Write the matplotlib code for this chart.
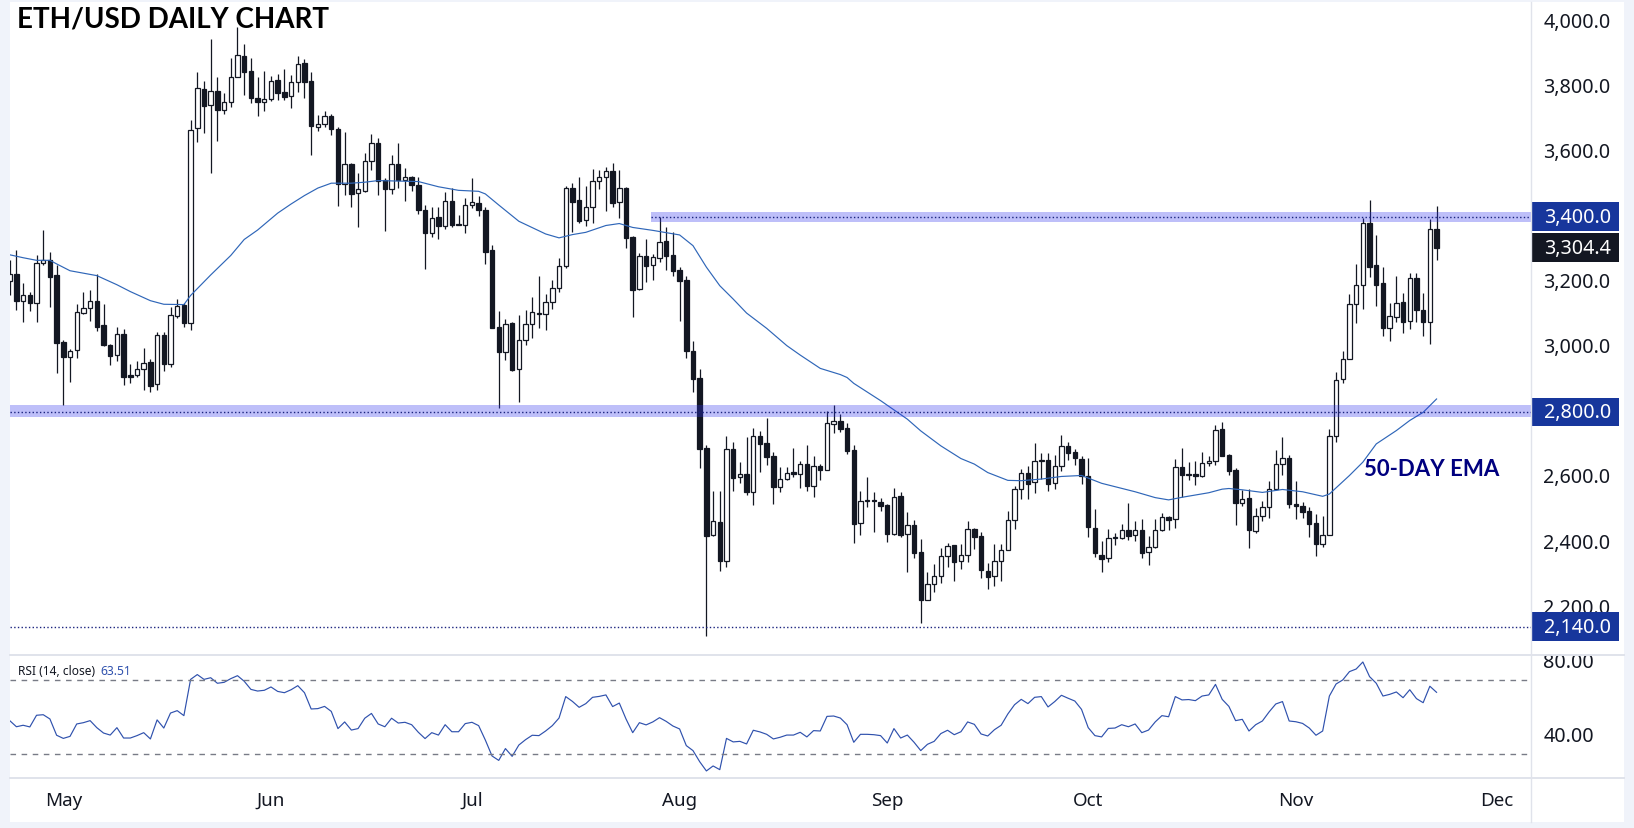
import numpy as np
import matplotlib
matplotlib.use("Agg")
import matplotlib.pyplot as plt
from matplotlib.patches import Rectangle
from matplotlib.lines import Line2D
from matplotlib.transforms import ScaledTranslation

plt.rcParams['font.family'] = ['Noto Sans', 'DejaVu Sans']

# daily candles, first one is 8 days before May 1
open_ = [3204,3224,3140,3160,3134,3259,3266,3221,3015,2970,2990,3105,3119,3140,3067,3005,2974,3039,2913,2913,2931,2954,2885,3036,2946,3094,3129,3073,3672,3791,3744,3785,3729,3752,3828,3893,3847,3765,3752,3761,3819,3782,3770,3813,3871,3816,3675,3684,3709,3669,3500,3561,3472,3480,3570,3626,3512,3484,3561,3513,3521,3497,
         3421,3351,3398,3370,3447,3377,3374,3435,3441,3420,3297,3060,2984,3073,2931,3020,3070,3102,3100,3137,3180,3248,3487,3450,3389,3429,3509,3523,3539,3444,3487,3338,3177,3278,3251,3272,3324,3281,3235,3206,2987,2905,2688,2421,2461,2343,2685,2599,2611,2553,2725,2705,2664,2571,2593,2615,2611,2639,2574,2633,2623,2764,
         2772,2751,2682,2458,2527,2529,2525,2513,2424,2541,2426,2452,2369,2224,2273,2295,2359,2390,2341,2362,2442,2418,2313,2295,2341,2375,2467,2562,2614,2584,2648,2654,2581,2633,2697,2676,2657,2602,2445,2362,2350,2413,2414,2438,2423,2439,2369,2384,2438,2476,2470,2630,2611,2611,2604,2642,2648,2748,2667,2621,2521,2535,2435,
         2480,2507,2565,2639,2658,2518,2510,2495,2458,2396,2423,2725,2900,2964,3131,3189,3380,3251,3195,3059,3091,3137,3079,3211,3113,3075,3361]
high = [3267,3298,3197,3168,3281,3359,3291,3253,3021,2994,3132,3170,3175,3223,3132,3009,3062,3055,2948,2956,2996,2963,3047,3045,3122,3147,3135,3697,3844,3817,3946,3828,3780,3887,3982,3930,3887,3828,3848,3833,3838,3854,3836,3893,3885,3844,3713,3724,3716,3675,3659,3564,3534,3596,3653,3641,3518,3590,3626,3550,3525,3521,
        3436,3429,3429,3475,3487,3406,3456,3519,3463,3429,3312,3110,3086,3077,3098,3113,3153,3219,3163,3205,3273,3495,3503,3522,3494,3546,3543,3552,3565,3543,3490,3342,3287,3332,3286,3398,3367,3352,3244,3218,3018,2932,2699,2557,2557,2726,2707,2647,2722,2750,2742,2781,2676,2630,2631,2690,2649,2699,2664,2640,2802,2822,
        2794,2765,2700,2556,2599,2553,2535,2517,2566,2553,2493,2467,2410,2310,2333,2381,2399,2391,2394,2465,2443,2430,2336,2394,2394,2495,2572,2625,2634,2705,2673,2673,2668,2728,2708,2686,2664,2658,2502,2403,2442,2427,2455,2520,2465,2470,2419,2470,2489,2481,2655,2689,2646,2649,2677,2665,2759,2768,2671,2628,2560,2565,2504,
        2527,2587,2683,2722,2668,2587,2523,2507,2487,2482,2748,2922,2987,3163,3255,3396,3451,3344,3245,3135,3217,3166,3227,3226,3166,3393,3432]
low = [3158,3112,3078,3109,3076,3253,3124,2919,2820,2893,2965,3101,3081,3050,3004,2943,2958,2884,2889,2907,2869,2863,2869,2927,2937,3090,3060,3053,3631,3657,3535,3634,3714,3738,3828,3774,3748,3708,3726,3754,3757,3758,3735,3784,3766,3591,3663,3675,3651,3434,3468,3431,3367,3477,3544,3468,3357,3470,3487,3449,3480,3409,
       3238,3339,3330,3362,3367,3373,3350,3428,3403,3256,3057,2813,2960,2927,2830,3007,3027,3059,3053,3116,3170,3241,3354,3382,3372,3382,3485,3418,3431,3397,3305,3093,3176,3200,3207,3262,3237,3219,3081,2967,2863,2629,2113,2420,2313,2325,2558,2582,2546,2515,2617,2638,2518,2555,2592,2601,2567,2558,2540,2592,2623,2736,
       2739,2671,2397,2423,2509,2432,2497,2401,2423,2417,2309,2352,2153,2223,2248,2274,2324,2282,2317,2340,2379,2290,2257,2266,2282,2375,2440,2534,2534,2552,2594,2558,2564,2620,2653,2638,2579,2417,2355,2309,2340,2391,2410,2408,2404,2351,2330,2383,2435,2437,2443,2540,2591,2575,2599,2635,2637,2664,2607,2454,2510,2383,2429,
       2466,2474,2561,2605,2504,2472,2473,2415,2359,2384,2423,2707,2890,2963,3074,3115,3216,3127,3032,3019,3078,3044,3056,3075,3035,3010,3268]
close = [3224,3142,3159,3134,3257,3266,3216,3013,2970,2987,3106,3119,3140,3062,3007,2973,3039,2909,2909,2931,2952,2881,3036,2946,3097,3125,3073,3665,3795,3739,3785,3729,3752,3828,3896,3844,3766,3751,3761,3816,3781,3769,3813,3868,3815,3680,3684,3709,3668,3500,3561,3471,3484,3570,3626,3510,3485,3561,3513,3521,3496,3422,
         3351,3397,3370,3447,3376,3375,3435,3444,3420,3293,3059,2983,3070,2930,3020,3070,3106,3104,3137,3180,3248,3487,3446,3388,3429,3509,3521,3539,3443,3487,3336,3176,3278,3250,3275,3321,3280,3232,3203,2988,2902,2687,2420,2464,2343,2685,2598,2611,2555,2725,2703,2663,2571,2593,2614,2611,2639,2574,2633,2623,2766,2771,
         2748,2681,2457,2528,2529,2527,2512,2426,2538,2423,2452,2368,2223,2273,2295,2358,2387,2340,2362,2442,2417,2315,2294,2341,2375,2467,2562,2614,2580,2648,2654,2580,2633,2697,2675,2659,2602,2447,2366,2349,2414,2416,2438,2420,2438,2368,2384,2438,2476,2469,2630,2607,2606,2604,2642,2648,2746,2666,2620,2521,2534,2438,2480,
         2507,2565,2639,2658,2516,2510,2494,2457,2396,2421,2725,2898,2964,3131,3189,3380,3247,3191,3059,3094,3136,3078,3211,3112,3075,3361,3304]

# 50 day EMA, read at these candles
ema_days = [-8,-6,-4,-2,-1,1,5,8,10,13,15,18,19,22,25,27,29,32,34,36,38,40,43,45,47,53,56,59,62,63,65,68,72,74,76,78,81,83,85,88,92,94,96,98,100,102,105,108,110,113,116,117,118,122,126,128,131,134,136,138,141,143,146,149,152,154,155,160,163,165,167,171,173,174,176,179,182,185,188,189,192,194,196,199,201,203,205]
ema = [3283,3274,3266,3266,3255,3234,3219,3191,3170,3142,3131,3130,3158,3221,3281,3330,3359,3411,3439,3465,3488,3503,3503,3506,3511,3508,3492,3481,3478,3470,3436,3386,3347,3335,3345,3352,3373,3379,3367,3358,3344,3311,3245,3188,3147,3104,3057,3004,2975,2934,2915,2906,2888,2835,2778,2742,2696,2657,2640,2614,2590,2589,2594,2602,2605,2589,2581,2555,2537,2530,2538,2552,2563,2565,2561,2553,2562,2555,2541,2548,2605,2646,2702,2743,2774,2799,2840]

rsi = [48.2,44.9,45.7,44.8,51.1,51.4,49.1,40.3,38.6,39.7,46.4,47.1,48.2,44.4,41.5,40.4,44.4,38.8,38.8,40.1,41.7,38.3,48.6,44.2,52.3,53.6,50.9,70.5,73.1,70.5,71.4,68.4,68.9,70.9,72.5,69.5,65.1,64.2,64.6,66.4,64.0,63.3,64.9,67.1,63.3,54.5,54.7,55.9,53.2,43.9,47.5,43.1,43.9,49.5,52.1,46.4,
       44.9,49.5,46.9,47.3,46.0,41.9,38.5,41.7,40.4,46.0,42.2,42.2,46.6,47.3,45.5,37.7,29.1,26.7,33.1,28.9,35.0,37.9,40.3,40.1,42.6,45.5,49.6,61.2,58.6,55.4,57.4,60.8,61.3,62.1,55.8,57.7,49.1,41.7,47.1,45.9,47.5,49.8,47.8,45.3,43.7,34.7,32.0,26.0,21.0,23.7,21.7,38.6,36.7,37.0,35.6,43.0,
       42.1,40.8,38.3,39.2,40.4,40.4,41.9,39.4,42.8,42.6,50.5,50.7,49.6,46.0,36.5,40.8,40.8,40.6,40.1,36.1,43.9,38.8,40.4,36.5,32.0,35.4,37.0,41.2,43.0,40.6,42.2,47.5,46.2,41.0,39.9,43.3,45.7,51.8,56.8,59.7,57.4,60.8,61.2,55.6,58.5,61.9,60.3,58.8,54.3,44.4,40.1,39.4,44.0,44.2,
       46.0,44.9,46.4,41.7,43.1,47.5,50.9,50.3,61.2,59.4,59.6,59.0,61.5,62.1,67.8,59.7,55.9,48.2,48.9,42.6,46.0,48.0,52.9,57.2,58.5,48.0,47.6,46.7,44.2,40.3,42.6,61.5,68.0,70.2,74.7,76.1,79.9,72.0,68.4,61.5,62.4,63.7,60.6,64.9,60.1,57.9,66.8,63.51]

month_days = [0,31,61,92,123,153,184,214]
month_labels = ['May','Jun','Jul','Aug','Sep','Oct','Nov','Dec']
price_ticks = [2200,2400,2600,3000,3200,3600,3800,4000]
rsi_ticks = [40,80]

W, H = 1634, 829
DARK = '#131722'
GRID = '#e0e3eb'
NAVY = '#1a237e'
TAG = '#17369c'
LABEL_SIZE = 14.2

def pane(x0, y0, x1, y1):
    return [x0/W, 1-y1/H, (x1-x0)/W, (y1-y0)/H]

fig = plt.figure(figsize=(W/100, H/100), dpi=100, facecolor='#f0f3fa')
fig.add_artist(Rectangle((10/W, 1-823/H), 1614/W, 820/H, transform=fig.transFigure, fc='white', ec='none', zorder=-1))
ax = fig.add_axes(pane(10, 3, 1531, 656))
ax2 = fig.add_axes(pane(10, 656, 1531, 779), sharex=ax)
nudge = ScaledTranslation(0, 2.2/100, fig.dpi_scale_trans)

days = np.arange(-8, 206)
o, h, l, c = map(np.array, (open_, high, low, close))
up = c >= o
ax.vlines(days, l, h, color=DARK, lw=0.9, zorder=2)
ax.bar(days, np.abs(c-o), bottom=np.minimum(o, c), width=0.66,
       color=np.where(up, 'white', DARK), edgecolor=DARK, linewidth=0.9, zorder=3)
ax.plot(ema_days, ema, color='#2f66b8', lw=0.85, zorder=4)

# bands sit on top of the candles
ax.fill_between([-8, 220], 2786, 2822, color='#2f33ee', alpha=0.31, lw=0, zorder=5)
ax.fill_between([87.7, 220], 3385, 3415, color='#2f33ee', alpha=0.31, lw=0, zorder=5)
ax.plot([-8, 220], [2800, 2800], color=NAVY, lw=1, ls=':', zorder=6)
ax.plot([87.7, 220], [3400, 3400], color=NAVY, lw=1, ls=':', zorder=6)
ax.plot([-8, 220], [2140, 2140], color=NAVY, lw=1, ls=':', zorder=6)

ax.set_xlim(-7.96, 219.1)
ax.set_ylim(2053.5, 4059.6)
ax.yaxis.tick_right()
ax.set_yticks(price_ticks)
ax.set_yticklabels(['{:,.1f}'.format(t) for t in price_ticks])
ax.tick_params(axis='y', length=0, pad=9, labelsize=LABEL_SIZE, labelcolor=DARK)
ax.tick_params(axis='x', length=0, labelbottom=False)

# price tags on the axis
trans = ax.get_yaxis_transform()
for price, centre, col in [(3400, 3400, TAG), (3304.4, 3305, DARK), (2800, 2800, TAG), (2140, 2140, TAG)]:
    ax.add_patch(Rectangle((1, centre-44.5), 88/1521, 89, transform=trans, fc=col, ec='none', clip_on=False, zorder=10))
    ax.text(1+80/1521, centre, '{:,.1f}'.format(price), transform=trans+nudge, color='white', fontsize=LABEL_SIZE,
            ha='right', va='center_baseline', zorder=11, clip_on=False)

ax.text(7/1521, 4008, 'ETH/USD DAILY CHART', fontsize=20, fontweight='bold', family='Lato', color='black',
        transform=trans, va='center', ha='left', zorder=12)
ax.text(194.2, 2625, '50-DAY EMA', fontsize=16, fontweight='bold', family='Lato', color='#00007f', va='center', ha='left', zorder=12)

ax2.plot(days, rsi, color='#2f51ad', lw=0.85)
ax2.axhline(70, color='#787b86', lw=1, dashes=(4, 4))
ax2.axhline(30, color='#787b86', lw=1, dashes=(4, 4))
ax2.set_ylim(17.19, 83.68)
ax2.yaxis.tick_right()
ax2.set_yticks(rsi_ticks)
ax2.set_yticklabels(['{:.2f}'.format(t) for t in rsi_ticks])
ax2.tick_params(axis='y', length=0, pad=9, labelsize=LABEL_SIZE, labelcolor=DARK)
ax2.set_xticks(month_days)
ax2.set_xticklabels(month_labels)
ax2.tick_params(axis='x', length=0, pad=9.5, labelsize=13.5, labelcolor=DARK)
ax2.text(8/1521, 0.87, 'RSI (14, close)', transform=ax2.transAxes, fontsize=8.6, color=DARK, va='center')
ax2.text(90/1521, 0.87, '63.51', transform=ax2.transAxes, fontsize=8.7, color='#2f51ad', va='center')

for a in (ax, ax2):
    for s in a.spines.values():
        s.set_visible(False)
    for t in a.get_yticklabels():
        t.set_transform(t.get_transform()+nudge)

# pane separators run into the axis strip
for y in (656, 779):
    fig.add_artist(Line2D([10/W, 1624/W], [1-y/H, 1-y/H], color=GRID, lw=1.4))
fig.add_artist(Line2D([1531/W, 1531/W], [1-823/H, 1-3/H], color=GRID, lw=1.0))

fig.savefig('out.png', dpi=100, facecolor=fig.get_facecolor())
